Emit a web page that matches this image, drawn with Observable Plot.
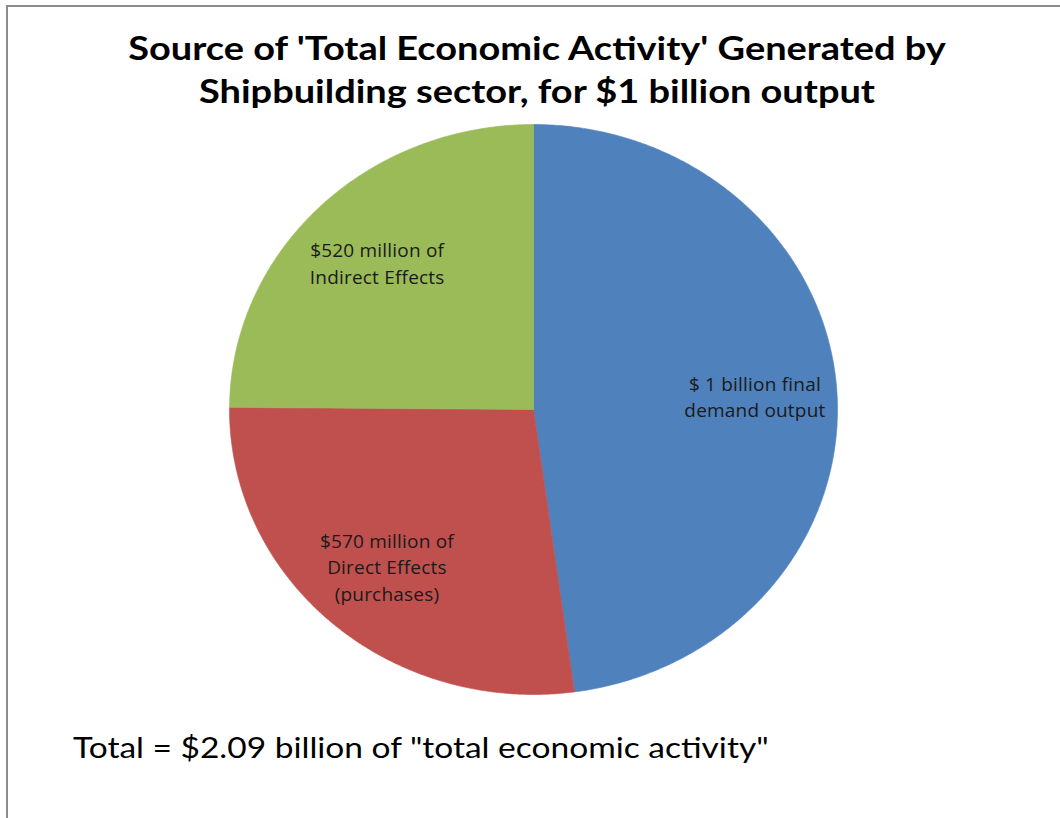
<!DOCTYPE html>
<html>
<head>
<meta charset="utf-8">
<script src="https://cdn.jsdelivr.net/npm/d3@7"></script>
<script src="https://cdn.jsdelivr.net/npm/@observablehq/plot@0.6"></script>
<style>
  html, body { margin: 0; padding: 0; background: #fff; }
  body { width: 1060px; height: 818px; position: relative; overflow: hidden; font-family: Lato, "Open Sans", sans-serif; }
  #frame { position: absolute; left: 6px; top: 5px; width: 1060px; height: 820px; border-top: 2px solid #8c8c8c; border-left: 2px solid #8c8c8c; }
  #title { position: absolute; left: 0; top: 26px; width: 1074px; text-align: center; font-weight: 700; font-size: 33px; line-height: 43px; color: #000; transform: scaleX(1.15); transform-origin: 537px 0; }
  #chart { position: absolute; left: 0; top: 0; }
  #caption { position: absolute; left: 73px; top: 729px; font-size: 29px; color: #000; white-space: nowrap; transform: scaleX(1.155); transform-origin: 0 0; }
  #chart text { letter-spacing: 0.2px; }
</style>
</head>
<body>
<div id="frame"></div>
<div id="chart"></div>
<div id="title">Source of 'Total Economic Activity' Generated by<br>Shipbuilding sector, for $1 billion output</div>
<div id="caption">Total = $2.09 billion of "total economic activity"</div>
<script>
const categories = ["Final demand output", "Direct Effects", "Indirect Effects"];
const values = [1000, 570, 520]; // $ million
const labels = ["$ 1 billion final\ndemand output", "$570 million of\nDirect Effects\n(purchases)", "$520 million of\nIndirect Effects"];
const colors = ["#4F81BD", "#C0504D", "#9BBB59"];

const total = d3.sum(values);
const slices = [];
const points = [];
let start = 0;
categories.forEach((name, i) => {
  const a0 = start, a1 = start + values[i] / total * 2 * Math.PI;
  start = a1;
  points.push({name, x: 0, y: 0});
  const n = Math.max(2, Math.ceil((a1 - a0) / (Math.PI / 360)));
  for (let k = 0; k <= n; k++) {
    const a = a0 + (a1 - a0) * k / n;
    points.push({name, x: Math.sin(a), y: Math.cos(a)});
  }
  points.push({name, x: 0, y: 0});
  const m = (a0 + a1) / 2, r = 0.73;
  slices.push({name, label: labels[i], x: r * Math.sin(m), y: r * Math.cos(m)});
});

const chart = Plot.plot({
  width: 1060,
  height: 818,
  margin: 0,
  x: {domain: [-1, 1], range: [229, 837], axis: null},
  y: {domain: [-1, 1], range: [694, 124], axis: null},
  color: {domain: categories, range: colors},
  marks: [
    Plot.line(points, {x: "x", y: "y", z: "name", fill: "name", stroke: "name", strokeWidth: 0.6, curve: "linear-closed"}),
    Plot.text(slices, {x: "x", y: "y", text: "label", fontSize: 19, lineHeight: 1.4, fill: "#1a1a1a", fontFamily: "'Open Sans', Lato, sans-serif"})
  ]
});
document.getElementById("chart").appendChild(chart);
</script>
</body>
</html>
